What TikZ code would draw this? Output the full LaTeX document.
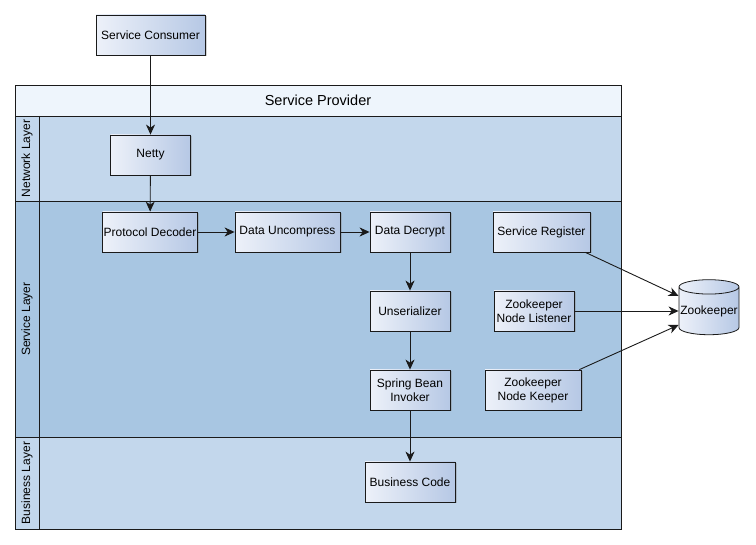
\documentclass[tikz,border=0pt]{standalone}
\usepackage{fontspec}
\setmainfont{Liberation Sans}
\usetikzlibrary{arrows.meta,shapes.geometric,shadows}

\definecolor{boxleft}{HTML}{EDF1F9}
\definecolor{boxright}{HTML}{B6C8E5}
\definecolor{titlefill}{HTML}{EEF5FC}
\definecolor{lanelight}{HTML}{C3D7EC}
\definecolor{lanedark}{HTML}{A8C6E2}
\definecolor{edge}{HTML}{1A1A1A}

\begin{document}
\begin{tikzpicture}[x=1pt,y=-1pt,
  box/.style={draw=edge,line width=0.8pt,left color=boxleft,right color=boxright,
    drop shadow={shadow xshift=1.5pt,shadow yshift=-1.5pt,opacity=0.35},
    minimum height=40pt,align=center,inner sep=1pt,
    font=\fontsize{12}{14}\selectfont},
  arr/.style={-{Stealth[length=10pt,width=9pt,inset=3pt]},line width=0.9pt,draw=edge},
  lane/.style={draw=edge,line width=0.8pt},
  lanetext/.style={rotate=90,font=\fontsize{12}{14}\selectfont}]
\useasboundingbox (0,0) rectangle (756,545);

% pool and lanes
\draw[lane,fill=titlefill] (15,85) rectangle (621,116);
\draw[lane,fill=lanelight] (15,116) rectangle (621,201);
\draw[lane,fill=lanedark] (15,201) rectangle (621,437);
\draw[lane,fill=lanelight] (15,437) rectangle (621,529);
\draw[lane] (39,116) -- (39,529);
\node[font=\fontsize{14.5}{16}\selectfont] (provider) at (318,100.5) {Service Provider};
\node[lanetext] (network) at (27,158.5) {Network Layer};
\node[lanetext] (service) at (27,319) {Service Layer};
\node[lanetext] (businesslayer) at (27,483) {Business Layer};

\node[box,minimum width=109pt] (consumer) at (150.5,35) {Service Consumer};
\node[box,minimum width=80pt] (netty) at (150.5,155) {Netty};
\node[box,minimum width=94pt] (decoder) at (150,232) {Protocol Decoder};
\node[box,minimum width=105pt] (uncompress) at (287.5,232) {Data Uncompress};
\node[box,minimum width=80pt] (decrypt) at (410,232) {Data Decrypt};
\node[box,minimum width=97pt] (register) at (541.5,232) {Service Register};
\node[box,minimum width=80pt] (unserial) at (410,311) {Unserializer};
\node[box,minimum width=80pt] (listener) at (534,311) {Zookeeper\\Node Listener};
\node[box,minimum width=80pt] (invoker) at (410,390) {Spring Bean\\Invoker};
\node[box,minimum width=96pt] (keeper) at (533,390) {Zookeeper\\Node Keeper};
\node[box,minimum width=90pt] (business) at (410,482) {Business Code};

\node[cylinder,shape border rotate=90,aspect=0.25,draw=edge,line width=0.8pt,
  left color=boxleft,right color=boxright,minimum width=60pt,minimum height=55pt,
  inner xsep=0pt,font=\fontsize{12}{14}\selectfont] (zk) at (709,311) {Zookeeper};

\draw[arr] (consumer) -- (netty);
\draw[arr] (netty) -- (decoder);
\draw[arr] (decoder) -- (uncompress);
\draw[arr] (uncompress) -- (decrypt);
\draw[arr] (decrypt) -- (unserial);
\draw[arr] (unserial) -- (invoker);
\draw[arr] (invoker) -- (business);
\draw[arr] ([xshift=-5pt]register.south east) -- ([yshift=15pt]zk.west);
\draw[arr] (listener) -- (zk);
\draw[arr] ([xshift=-2pt]keeper.north east) -- ([yshift=-14pt]zk.west);
\end{tikzpicture}
\end{document}
